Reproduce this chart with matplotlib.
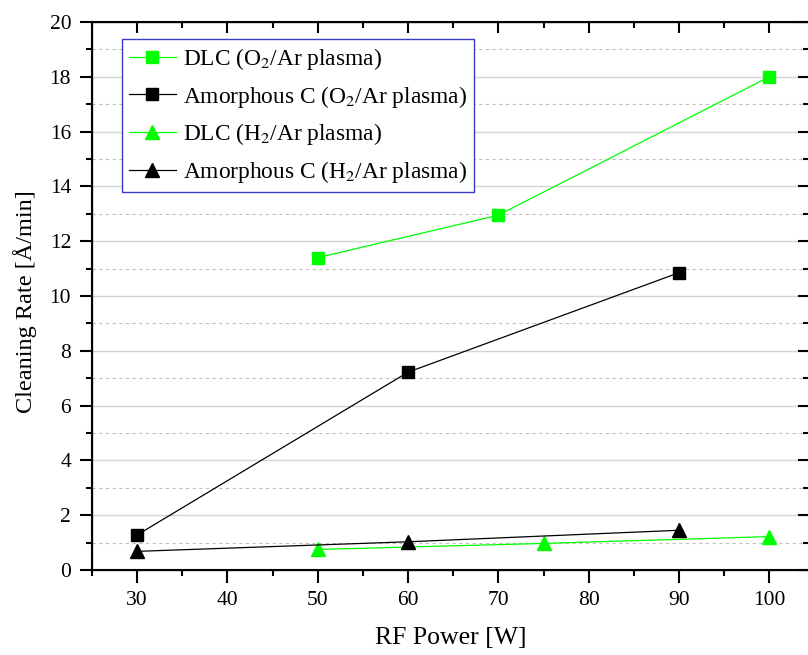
import matplotlib
matplotlib.use("Agg")
import matplotlib.pyplot as plt
from matplotlib.ticker import MultipleLocator

plt.rcParams['font.family'] = ['Liberation Serif', 'DejaVu Serif']
plt.rcParams['mathtext.fontset'] = 'stix'

# data
dlc_o2_x = [50, 70, 100]
dlc_o2_y = [11.4, 12.95, 18.0]
amc_o2_x = [30, 60, 90]
amc_o2_y = [1.28, 7.22, 10.85]
dlc_h2_x = [50, 75, 100]
dlc_h2_y = [0.75, 0.97, 1.22]
amc_h2_x = [30, 60, 90]
amc_h2_y = [0.68, 1.03, 1.45]

labels = ['DLC (O$_2$/Ar plasma)', 'Amorphous C (O$_2$/Ar plasma)',
          'DLC (H$_2$/Ar plasma)', 'Amorphous C (H$_2$/Ar plasma)']

green = '#00ff00'
fig = plt.figure(figsize=(8.08, 6.55), dpi=100)
ax = fig.add_axes([92/808, 85/655, 717/808, 548/655])

ax.plot(dlc_o2_x, dlc_o2_y, '-', color=green, lw=0.9, marker='s', ms=9,
        mfc=green, mec=green, label=labels[0])
ax.plot(amc_o2_x, amc_o2_y, '-', color='black', lw=0.9, marker='s', ms=9,
        mfc='black', mec='black', label=labels[1])
ax.plot(dlc_h2_x, dlc_h2_y, '-', color=green, lw=0.9, marker='^', ms=10,
        mfc=green, mec=green, label=labels[2])
ax.plot(amc_h2_x, amc_h2_y, '-', color='black', lw=0.9, marker='^', ms=10,
        mfc='black', mec='black', label=labels[3])

ax.set_xlim(25, 104.4)
ax.set_ylim(0, 20)
ax.xaxis.set_major_locator(MultipleLocator(10))
ax.xaxis.set_minor_locator(MultipleLocator(5))
ax.yaxis.set_major_locator(MultipleLocator(2))
ax.yaxis.set_minor_locator(MultipleLocator(1))

ax.grid(True, axis='y', which='major', color='#d4d4d4', lw=1.0, ls='-')
ax.grid(True, axis='y', which='minor', color='#c0c0c0', lw=0.8, ls=(0, (3, 3)))
ax.set_axisbelow(True)

for s in ax.spines.values():
    s.set_linewidth(1.5)

ax.tick_params(which='both', direction='out', width=1.5, labelsize=15.5,
               bottom=True, left=True, top=False, right=False)
ax.tick_params(which='major', length=9, pad=6)
ax.tick_params(which='minor', length=4.5)
# inward ticks on top and right like Origin
ax2 = ax.twiny()
ax2.set_xlim(ax.get_xlim())
ax2.xaxis.set_major_locator(MultipleLocator(10))
ax2.xaxis.set_minor_locator(MultipleLocator(5))
ax2.tick_params(which='both', direction='in', width=1.5, labeltop=False)
ax2.tick_params(which='major', length=8)
ax2.tick_params(which='minor', length=4)
ax3 = ax.twinx()
ax3.set_ylim(ax.get_ylim())
ax3.yaxis.set_major_locator(MultipleLocator(2))
ax3.yaxis.set_minor_locator(MultipleLocator(1))
ax3.tick_params(which='both', direction='in', width=1.5, labelright=False)
ax3.tick_params(which='major', length=8)
ax3.tick_params(which='minor', length=4)

ax.set_xlabel('RF Power [W]', fontsize=18.5, labelpad=12)
ax.set_ylabel('Cleaning Rate [Å/min]', fontsize=17.5)
ax.yaxis.set_label_coords(-0.077, 0.49)

leg = ax.legend(loc='upper left', bbox_to_anchor=(30/717, 1 - 17/548),
                fontsize=16.8, frameon=True, fancybox=False, handlelength=2.0,
                handletextpad=0.3, borderpad=0.3, labelspacing=0.5,
                borderaxespad=0)
leg.get_frame().set_edgecolor('#3a3acc')
leg.get_frame().set_linewidth(1.0)
leg.get_frame().set_alpha(1)

fig.savefig('out.png', dpi=100)
